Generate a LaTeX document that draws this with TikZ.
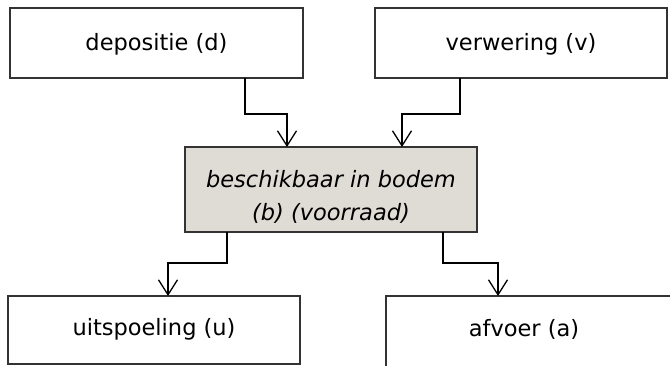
\documentclass[tikz,border=0pt]{standalone}
\usepackage{fontspec}
\setmainfont{DejaVu Sans}
\usetikzlibrary{arrows.meta}
\definecolor{boxfill}{HTML}{DFDCD6}
\definecolor{boxline}{HTML}{333333}
\tikzset{
  pbox/.style={draw=boxline, line width=1.1pt, fill=white, inner sep=0pt},
  flow/.style={draw=black, line width=1.5pt, -{Straight Barb[length=15pt,width=19pt,line width=1.3pt]}},
  lbl/.style={font=\fontsize{22.5}{33}\selectfont, align=center}
}
\begin{document}
\begin{tikzpicture}[x=1pt,y=-1pt]
\useasboundingbox (0,0) rectangle (670,365);
\clip (0,0) rectangle (670,365);
% boxes
\draw[pbox] (10,8) rectangle (303,78);
\node[lbl] (d) at (156.5,44.5) {depositie (d)};
\draw[pbox] (375,8) rectangle (667,78);
\node[lbl] (v) at (521,44.5) {verwering (v)};
\draw[pbox, fill=boxfill] (185,147) rectangle (477,232);
\node[lbl, font=\fontsize{22.5}{33}\selectfont\itshape] (b) at (331,196.5) {beschikbaar in bodem\\(b) (voorraad)};
\draw[pbox] (8,296) rectangle (300,364);
\node[lbl] (u) at (154,329) {uitspoeling (u)};
\draw[pbox] (386,296) rectangle (700,370);
\node[lbl] (a) at (524,329) {afvoer (a)};
% connector anchor points
\coordinate (d1) at (245,78);
\coordinate (d2) at (245,114);
\coordinate (d3) at (287,114);
\coordinate (d4) at (287,147);
\coordinate (v1) at (460,78);
\coordinate (v2) at (460,114);
\coordinate (v3) at (402,114);
\coordinate (v4) at (402,147);
\coordinate (u1) at (227,232);
\coordinate (u2) at (227,263);
\coordinate (u3) at (168,263);
\coordinate (u4) at (168,296);
\coordinate (a1) at (443,232);
\coordinate (a2) at (443,263);
\coordinate (a3) at (498,263);
\coordinate (a4) at (498,296);
\draw[flow] (d1) -- (d2) -- (d3) -- (d4);
\draw[flow] (v1) -- (v2) -- (v3) -- (v4);
\draw[flow] (u1) -- (u2) -- (u3) -- (u4);
\draw[flow] (a1) -- (a2) -- (a3) -- (a4);
\end{tikzpicture}
\end{document}
